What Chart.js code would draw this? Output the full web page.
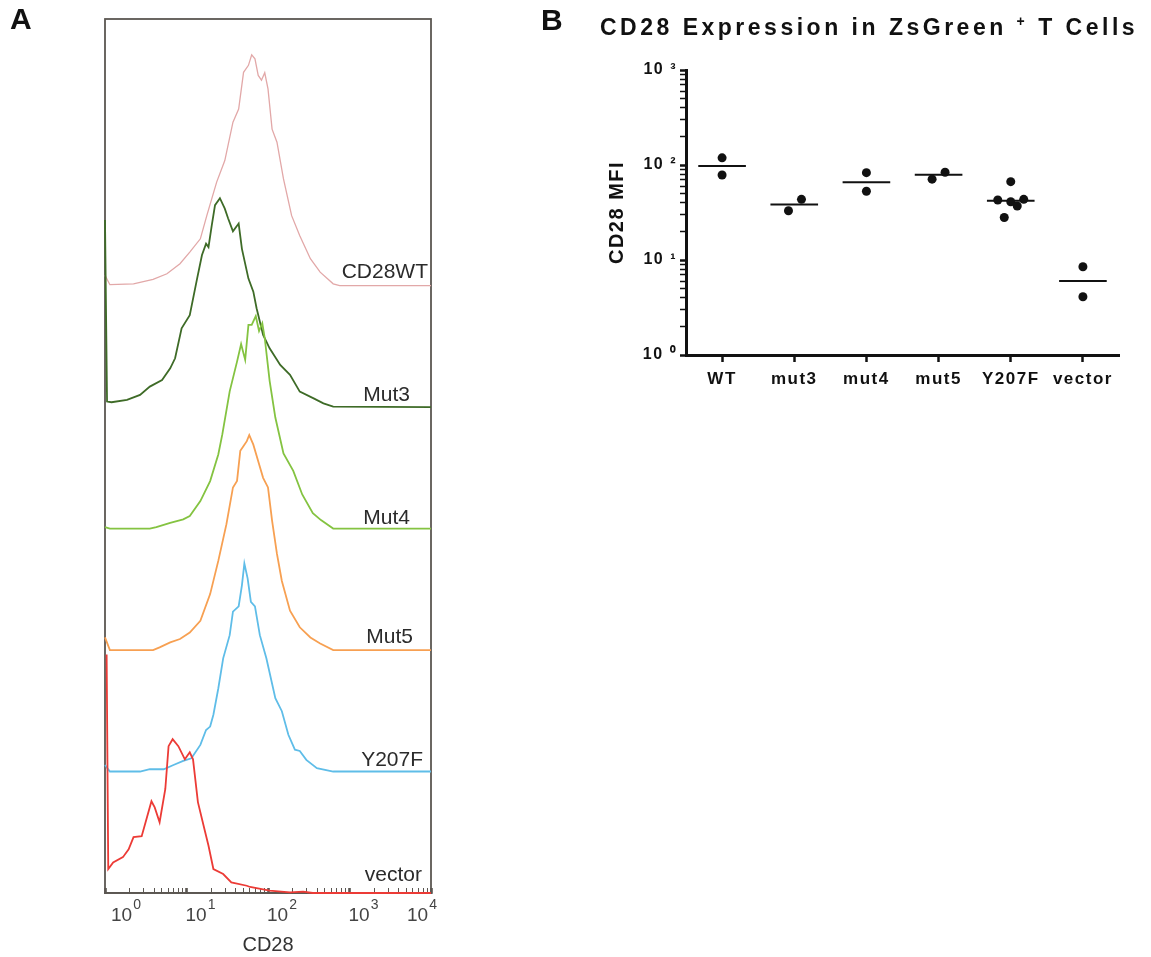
<!DOCTYPE html>
<html lang="en">
<head>
<meta charset="UTF-8">
<title>CD28 expression</title>
<script src="https://cdn.jsdelivr.net/npm/chart.js@4.4.1/dist/chart.umd.min.js"></script>
<style>
    body { margin: 0; background: #fff; }
    #wrapA { position: absolute; left: 0; top: 0; width: 480px; height: 957px; }
    #wrapB { position: absolute; left: 530px; top: 0; width: 621px; height: 420px; }
</style>
</head>
<body>
<div id="wrapA"><canvas id="chartA"></canvas></div>
<div id="wrapB"><canvas id="chartB"></canvas></div>

<script>
// ---------- panel A : CD28 histograms ----------
// x = log10(CD28 intensity), h = event count in % of the frame height
const histNames = ['vector', 'Y207F', 'Mut5', 'Mut4', 'Mut3', 'CD28WT'];

const vecX = [0.02,0.04,0.10,0.22,0.29,0.35,0.45,0.51,0.57,0.61,0.67,0.74,0.78,0.83,0.90,0.98,1.04,1.08,1.14,1.21,1.27,1.33,1.45,1.55,1.74,1.78,2.02,2.27,2.43,2.55,4.0];
const vecH = [27.3,2.74,3.5,4.1,5.0,6.4,6.5,8.5,10.5,9.8,8.1,11.9,16.8,17.6,16.8,15.3,16.1,15.3,10.4,7.7,5.4,2.74,2.17,1.22,0.83,0.69,0.26,0.08,0.15,0,0];

const y207fX = [0,0.06,0.43,0.55,0.72,0.84,0.96,1.06,1.17,1.24,1.29,1.33,1.39,1.45,1.53,1.57,1.64,1.68,1.71,1.75,1.79,1.84,1.90,1.98,2.09,2.17,2.25,2.33,2.39,2.47,2.60,2.80,4.0];
const y207fH = [0.75,0,0,0.26,0.26,0.75,1.21,1.52,3.04,4.75,5.14,6.5,9.5,12.95,15.6,18.3,18.9,21.3,23.8,22.1,19.4,18.9,15.6,12.95,8.4,6.9,4.2,2.5,2.35,1.33,0.38,0,0];

const mut5X = [0,0.06,0.59,0.67,0.80,0.92,1.04,1.17,1.29,1.39,1.49,1.57,1.62,1.66,1.70,1.74,1.77,1.82,1.88,1.94,2.00,2.05,2.11,2.17,2.27,2.39,2.52,2.64,2.80,4.0];
const mut5H = [1.44,0,0,0.3,0.87,1.26,2.0,3.35,6.4,10.2,14.4,18.6,19.35,22.8,23.35,23.9,24.6,23.5,21.6,19.7,18.6,14.8,11.0,7.9,4.5,2.6,1.44,0.75,0,0];

const mut4X = [0,0.06,0.55,0.63,0.80,0.96,1.04,1.17,1.29,1.39,1.44,1.53,1.62,1.67,1.72,1.76,1.80,1.85,1.89,1.93,1.96,2.02,2.09,2.19,2.31,2.42,2.55,2.65,2.80,4.0];
const mut4H = [0.17,0,0,0.17,0.66,1.05,1.43,3.14,5.43,8.48,10.8,15.7,19.1,21.1,19.3,23.3,23.3,24.3,22.6,23.5,21.8,16.9,12.7,8.6,6.6,3.9,1.77,0.97,0,0];

const mut3X = [0,0.025,0.08,0.27,0.43,0.55,0.70,0.80,0.86,0.94,1.04,1.13,1.19,1.24,1.27,1.31,1.35,1.41,1.47,1.51,1.57,1.64,1.68,1.76,1.82,1.86,1.94,2.02,2.15,2.27,2.39,2.56,2.68,2.80,4.0];
const mut3H = [21.4,0.63,0.55,0.82,1.39,2.34,3.1,4.43,5.58,9.0,10.5,14.7,17.4,18.7,18.3,20.8,23.1,23.9,22.7,21.6,20.1,21.0,18.1,14.7,13.2,11.3,8.25,6.72,4.82,3.68,1.77,1.0,0.43,0.06,0];

const wtX = [0,0.06,0.35,0.59,0.76,0.92,1.04,1.17,1.25,1.37,1.47,1.57,1.64,1.70,1.76,1.80,1.84,1.88,1.92,1.96,2.00,2.05,2.11,2.19,2.29,2.39,2.52,2.64,2.80,2.88,4.0];
const wtH = [1.17,0.1,0.2,0.7,1.35,2.5,3.83,5.35,8.03,11.84,14.3,18.7,20.2,24.4,25.2,26.4,25.95,24.05,23.5,24.35,22.5,17.9,16.4,12.2,8.0,5.7,3.07,1.54,0.2,0,0];

const histX = [vecX, y207fX, mut5X, mut4X, mut3X, wtX];
const histH = [vecH, y207fH, mut5H, mut4H, mut3H, wtH];

// ---------- panel B : CD28 MFI ----------
const groups = ['WT', 'mut3', 'mut4', 'mut5', 'Y207F', 'vector'];
const mfiWT = [119, 78.5];
const mfiMut3 = [43.5, 33];
const mfiMut4 = [83, 53];
const mfiMut5 = [71, 84];
const mfiY207F = [66.8, 42.8, 41, 43.5, 37, 28];
const mfiVector = [8.5, 4.1];
const mfiMean = [97.6, 38.5, 66, 79, 42, 6.0];
// horizontal scatter of the dots, in category widths
const jitWT = [0, 0];
const jitMut3 = [0.10, -0.08];
const jitMut4 = [0, 0];
const jitMut5 = [-0.09, 0.09];
const jitY207F = [0, -0.18, 0, 0.18, 0.09, -0.09];
const jitVector = [0, 0];

const mfiAll = [mfiWT, mfiMut3, mfiMut4, mfiMut5, mfiY207F, mfiVector];
const jitAll = [jitWT, jitMut3, jitMut4, jitMut5, jitY207F, jitVector];

const FONT = '"Liberation Sans", Arial, sans-serif';
const SUP = ['\u2070', '\u00B9', '\u00B2', '\u00B3', '\u2074'];

function isDecade(v) {
    const l = Math.log10(v);
    return Math.abs(l - Math.round(l)) < 1e-6;
}

// 1..9 x 10^n ticks
function logTicks(minExp, maxExp) {
    const t = [];
    for (let e = minExp; e < maxExp; e++) {
        for (let s = 1; s <= 9; s++) t.push({ value: s * Math.pow(10, e), major: s === 1 });
    }
    t.push({ value: Math.pow(10, maxExp), major: true });
    return t;
}

// ================= chart A =================
const histColors = ['#ec3b36', '#5fbde8', '#f7a052', '#84c341', '#3e6b27', '#e2a8a8'];
const histWidth = [1.8, 1.8, 1.8, 1.8, 1.8, 1.3];
const stepOffset = 13.9;

const datasetsA = histNames.map((name, i) => ({
    label: name,
    data: histX[i].map((lx, j) => ({ x: Math.pow(10, lx), y: i * stepOffset + histH[i][j] })),
    borderColor: histColors[i],
    borderWidth: histWidth[i],
    pointRadius: 0,
    tension: 0,
    fill: false,
    clip: 3,
}));

const panelAPlugin = {
    id: 'panelA',
    beforeDatasetsDraw(chart) {
        const ctx = chart.ctx;
        const a = chart.chartArea;
        ctx.save();
        ctx.strokeStyle = '#5b5752';
        ctx.lineWidth = 1.8;
        ctx.strokeRect(a.left, a.top, a.right - a.left, a.bottom - a.top);
        ctx.restore();
    },
    afterDraw(chart) {
        const ctx = chart.ctx;
        const a = chart.chartArea;
        const xs = chart.scales.x;
        const ys = chart.scales.y;
        ctx.save();

        // sample names
        const labelRight = [422, 423, 413, 410, 410, 428];
        const labelGap = [12, 5.5, 7.5, 5, 6, 8];
        ctx.fillStyle = '#2b2b2b';
        ctx.font = '21px ' + FONT;
        ctx.textAlign = 'right';
        ctx.textBaseline = 'alphabetic';
        histNames.forEach((name, i) => {
            const y = ys.getPixelForValue(i * stepOffset) - labelGap[i];
            ctx.fillText(name, labelRight[i], y);
        });

        // decade labels
        const shift = [6, -1, -1, -1, -24];
        ctx.textAlign = 'left';
        ctx.fillStyle = '#444';
        for (let n = 0; n <= 4; n++) {
            const px = xs.getPixelForValue(Math.pow(10, n)) + shift[n];
            ctx.font = '19px ' + FONT;
            ctx.fillText('10', px, a.bottom + 28);
            const w = ctx.measureText('10').width;
            ctx.font = '14px ' + FONT;
            ctx.fillText(String(n), px + w + 1, a.bottom + 16);
        }

        // axis name
        ctx.fillStyle = '#333';
        ctx.font = '20px ' + FONT;
        ctx.textAlign = 'center';
        ctx.fillText('CD28', (a.left + a.right) / 2, a.bottom + 58);

        // panel letter
        ctx.fillStyle = '#111';
        ctx.font = 'bold 30px ' + FONT;
        ctx.textAlign = 'left';
        ctx.fillText('A', 10, 29);
        ctx.restore();
    }
};

new Chart(document.getElementById('chartA'), {
    type: 'line',
    data: { datasets: datasetsA },
    options: {
        animation: false,
        responsive: true,
        maintainAspectRatio: false,
        devicePixelRatio: 1,
        layout: { padding: { left: 105, right: 49, top: 19, bottom: 24 } },
        plugins: { legend: { display: false }, tooltip: { enabled: false } },
        scales: {
            x: {
                type: 'logarithmic',
                min: 1,
                max: 10000,
                afterBuildTicks(s) { s.ticks = logTicks(0, 4); },
                border: { display: true, color: '#5b5752', width: 1.8 },
                grid: {
                    drawOnChartArea: false,
                    tickLength: -5,
                    tickColor: '#5b5752',
                    tickWidth: c => (c.tick && isDecade(c.tick.value) ? 2.6 : 1),
                },
                ticks: { display: false, autoSkip: false },
                afterFit(s) { s.height = 40; },
            },
            y: { display: false, min: 0, max: 100 },
        },
    },
    plugins: [panelAPlugin],
});

// ================= chart B =================
const dots = [];
mfiAll.forEach((vals, i) => {
    vals.forEach((v, j) => dots.push({ x: i + jitAll[i][j], y: v }));
});

const meanLines = mfiMean.map((m, i) => ({
    type: 'line',
    data: [{ x: i - 0.33, y: m }, { x: i + 0.33, y: m }],
    borderColor: '#111',
    borderWidth: 2,
    pointRadius: 0,
}));

const panelBPlugin = {
    id: 'panelB',
    beforeDraw(chart) {
        chart.ctx.letterSpacing = '1.5px';
    },
    afterDraw(chart) {
        const ctx = chart.ctx;
        ctx.save();
        ctx.fillStyle = '#111';
        ctx.textBaseline = 'alphabetic';
        ctx.textAlign = 'left';

        ctx.letterSpacing = '0px';
        ctx.font = 'bold 30px ' + FONT;
        ctx.fillText('B', 11, 30);

        // title with superscript +
        ctx.letterSpacing = '3.5px';
        let x = 70;
        const base = 35;
        ctx.font = 'bold 23px ' + FONT;
        const t1 = 'CD28 Expression in ZsGreen ';
        ctx.fillText(t1, x, base);
        x += ctx.measureText(t1).width;
        ctx.font = 'bold 14px ' + FONT;
        ctx.fillText('+', x, base - 9);
        x += ctx.measureText('+').width;
        ctx.font = 'bold 23px ' + FONT;
        ctx.fillText(' T Cells', x, base);
        ctx.restore();
        ctx.letterSpacing = '0px';
    }
};

new Chart(document.getElementById('chartB'), {
    type: 'scatter',
    data: {
        datasets: [
            {
                label: 'MFI',
                data: dots,
                backgroundColor: '#111',
                borderWidth: 0,
                pointRadius: 4.5,
            },
            ...meanLines,
        ],
    },
    options: {
        animation: false,
        responsive: true,
        maintainAspectRatio: false,
        devicePixelRatio: 1,
        layout: { padding: { left: 70, right: 32, top: 70, bottom: 0 } },
        plugins: { legend: { display: false }, tooltip: { enabled: false } },
        scales: {
            x: {
                type: 'linear',
                min: -0.5,
                max: 5.5,
                afterBuildTicks(s) { s.ticks = groups.map((g, i) => ({ value: i })); },
                ticks: {
                    autoSkip: false,
                    maxRotation: 0,
                    padding: 7,
                    color: '#111',
                    font: { family: FONT, weight: 'bold', size: 17 },
                    callback: v => groups[v],
                },
                grid: { drawOnChartArea: false, tickLength: 7, tickWidth: 2.5, tickColor: '#111' },
                border: { color: '#111', width: 3 },
                afterFit(s) { s.height = 65; },
            },
            y: {
                type: 'logarithmic',
                min: 1,
                max: 1000,
                afterBuildTicks(s) { s.ticks = logTicks(0, 3); },
                ticks: {
                    autoSkip: false,
                    padding: 3,
                    color: '#111',
                    font: { family: FONT, weight: 'bold', size: 16 },
                    callback: v => (isDecade(v) ? '10 ' + SUP[Math.round(Math.log10(v))] : ''),
                },
                grid: {
                    drawOnChartArea: false,
                    tickLength: 6,
                    tickColor: '#111',
                    tickWidth: c => (c.tick && isDecade(c.tick.value) ? 2.5 : 1.5),
                },
                border: { color: '#111', width: 3 },
                title: {
                    display: true,
                    text: 'CD28 MFI',
                    color: '#111',
                    font: { family: FONT, weight: 'bold', size: 20 },
                    padding: { top: 5, bottom: 0 },
                },
                afterFit(s) { s.width = 86; },
            },
        },
    },
    plugins: [panelBPlugin],
});
</script>
</body>
</html>
